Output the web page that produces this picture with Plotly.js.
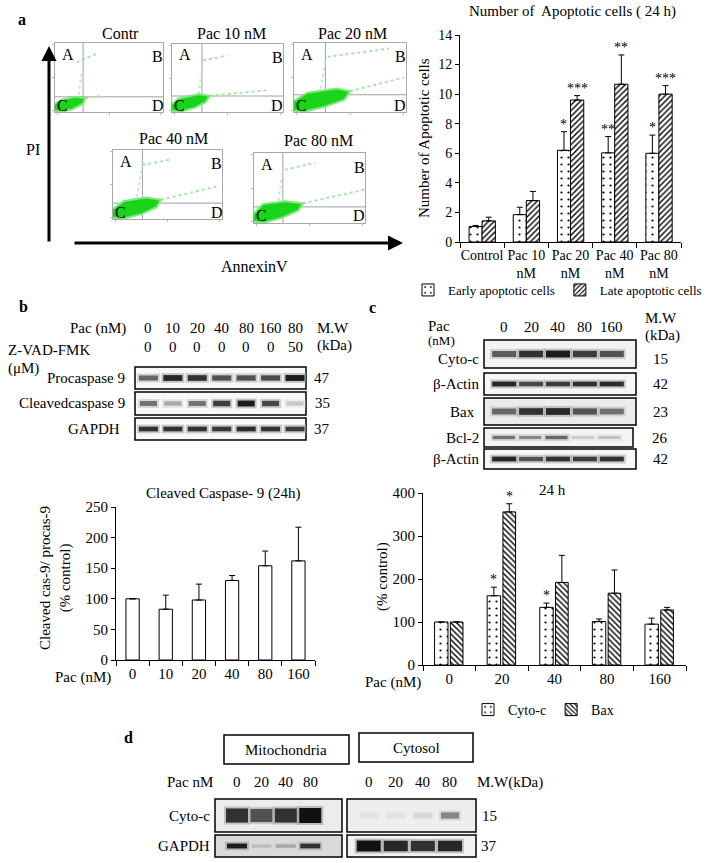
<!DOCTYPE html>
<html><head><meta charset="utf-8">
<script src="https://cdn.plot.ly/plotly-3.0.1.min.js"></script>
<style>html,body{margin:0;padding:0;background:#fff;overflow:hidden}#chart{width:708px;height:863px}</style>
</head><body><div id="chart"></div>
<script>
// ---------------- DATA ----------------
// Panel a: flow cytometry (unit coordinates inside each dot plot)
const flowTitles=['Contr','Pac 10 nM','Pac 20 nM','Pac 40 nM','Pac 80 nM'];
const flowGateX=[0.26,0.27,0.28,0.27,0.26];
const flowGateY=[0.22,0.235,0.25,0.23,0.23];
const flowCoreX=[
 [0,0.04,0.16,0.26,0.28,0.2,0.06,0],
 [0,0.06,0.2,0.3,0.34,0.24,0.06,0],
 [0,0.08,0.28,0.45,0.5,0.38,0.12,0],
 [0,0.08,0.26,0.4,0.44,0.3,0.1,0],
 [0,0.08,0.26,0.4,0.44,0.28,0.08,0]];
const flowCoreY=[
 [0.02,0,0.04,0.12,0.2,0.22,0.18,0.12],
 [0.02,0,0.06,0.14,0.24,0.26,0.2,0.12],
 [0.02,0,0.08,0.18,0.3,0.34,0.28,0.16],
 [0.02,0,0.07,0.17,0.28,0.31,0.26,0.15],
 [0.02,0,0.08,0.18,0.28,0.31,0.27,0.14]];
const flowUpperX=[[0.2,0.38],[0.28,0.5],[0.3,0.85],[0.27,0.52],[0.28,0.55]];
const flowUpperY=[[0.72,0.84],[0.76,0.83],[0.8,0.92],[0.78,0.86],[0.76,0.86]];
const flowLowerX=[[0.28,0.42],[0.34,0.85],[0.5,0.98],[0.44,0.95],[0.44,1.0]];
const flowLowerY=[[0.2,0.23],[0.24,0.32],[0.3,0.5],[0.28,0.47],[0.28,0.48]];
const flowVertX=[[0.22,0.25],[0.24,0.26],[0.24,0.28],[0.22,0.27],[0.22,0.26]];
const flowVertY=[[0.25,0.6],[0.26,0.55],[0.34,0.75],[0.32,0.78],[0.32,0.76]];
const quadLabels=['A','B','C','D'];

// Panel a: number of apoptotic cells
const apoCategories=['Control','Pac 10<br>nM','Pac 20<br>nM','Pac 40<br>nM','Pac 80<br>nM'];
const earlyApo=[1.05,1.85,6.2,6.03,6.0];
const earlyApoErr=[0.07,0.5,1.26,1.1,1.23];
const lateApo=[1.43,2.8,9.6,10.67,10.0];
const lateApoErr=[0.25,0.62,0.3,1.98,0.58];
const earlySig=['','','*','**','*'];
const lateSig=['','','***','**','***'];

// Panel b: western blot
const blotBLanes=['0','10','20','40','80','160','80'];
const blotBZvad=['0','0','0','0','0','0','50'];
const procasp9=[0.6,0.9,0.85,0.7,0.7,0.72,0.95];
const cleavedCasp9=[0.55,0.3,0.55,0.8,0.95,0.75,0.15];
const gapdhB=[0.85,0.85,0.85,0.82,0.88,0.85,0.8];
// Panel b: cleaved caspase-9 ratio
const casDoses=['0','10','20','40','80','160'];
const casRatio=[100,83,98,130,154,162];
const casErr=[0,23,26,8,24,55];

// Panel c: western blot
const blotCLanes=['0','20','40','80','160'];
const cytoCBand=[0.65,0.85,0.95,0.8,0.7];
const actinC1=[0.9,0.75,0.8,0.85,0.88];
const baxBand=[0.6,0.85,0.9,0.7,0.55];
const bcl2Band=[0.55,0.45,0.6,0.15,0.2];
const actinC2=[0.9,0.7,0.85,0.8,0.85];
// Panel c: quantification
const cytoDoses=['0','20','40','80','160'];
const cytoC=[100,161,134,101,95];
const cytoCErr=[0,20,10,6,14];
const bax=[100,356,192,167,128];
const baxErr=[0,19,63,54,6];
const cytoSig=['','*','*','',''];
const baxSig=['','*','','',''];

// Panel d: western blot
const blotDLanes=['0','20','40','80'];
const mitoCytoC=[0.85,0.7,0.85,1.0];
const mitoGapdh=[0.95,0.2,0.3,0.85];
const cytosolCytoC=[0.03,0.03,0.08,0.45];
const cytosolGapdh=[1.0,0.9,0.85,0.9];

// ---------------- LAYOUT HELPERS ----------------
const SERIF='Liberation Serif, Times New Roman, Times, serif';
const W=708,H=863;
const px=v=>v/W, py=v=>1-v/H;
const traces=[], annotations=[], shapes=[];
const layout={width:W,height:H,margin:{l:0,r:0,t:0,b:0,autoexpand:false},paper_bgcolor:'#fff',plot_bgcolor:'rgba(0,0,0,0)',
  font:{family:SERIF,size:15,color:'#000'},annotations:annotations,shapes:shapes,barmode:'group',showlegend:true,hovermode:false};
let axN=0;
function axes(x0,x1,y0,y1,xo,yo){
  axN++;
  const s=axN===1?'':String(axN);
  layout['xaxis'+s]=Object.assign({domain:[px(x0),px(x1)],anchor:'y'+s,showgrid:false,zeroline:false,fixedrange:true,automargin:false},xo);
  layout['yaxis'+s]=Object.assign({domain:[py(y1),py(y0)],anchor:'x'+s,showgrid:false,zeroline:false,fixedrange:true,automargin:false},yo);
  return {x:'x'+s,y:'y'+s,xd:'x'+s+' domain',yd:'y'+s+' domain',x0:x0,x1:x1};
}
function txt(x,y,t,o){
  annotations.push(Object.assign({xref:'paper',yref:'paper',x:px(x),y:py(y),text:t,showarrow:false,
    font:{family:SERIF,size:15,color:'#000'},xanchor:'center',yanchor:'middle'},o||{}));
}
const hidden=r=>({visible:false,range:r});

// ---------------- PANEL a : dot plots ----------------
txt(22,20,'<b>a</b>',{font:{family:SERIF,size:16,color:'#000'}});
const flowBoxes=[[55,163,43,112],[172,283,44,112],[294,406,43,112],[113,222,150,219],[254,365,153,223]];
const flowTitlePos=[[120,33],[232,33],[352,33],[173,138],[318,140]];
const quadPos=[[0.12,0.84],[0.95,0.8],[0.07,0.1],[0.95,0.1]];
const flowAxis=()=>({range:[0,1],showline:true,mirror:true,linecolor:'#a8a8a8',linewidth:1,ticks:'outside',ticklen:2,tickcolor:'#bbb',tickvals:[0.02,0.5,0.98],showticklabels:false});
flowBoxes.forEach((b,i)=>{
  const a=axes(b[0],b[1],b[2],b[3],flowAxis(),flowAxis());
  const base={type:'scatter',xaxis:a.x,yaxis:a.y,hoverinfo:'skip',showlegend:false};
  traces.push(Object.assign({mode:'lines',x:[flowGateX[i],flowGateX[i]],y:[0,1],line:{color:'#a0a0a0',width:1}},base));
  traces.push(Object.assign({mode:'lines',x:[0,1],y:[flowGateY[i],flowGateY[i]],line:{color:'#a0a0a0',width:1}},base));
  traces.push(Object.assign({mode:'lines',x:flowVertX[i],y:flowVertY[i],line:{color:'#bfeebf',width:2,dash:'dot'}},base));
  traces.push(Object.assign({mode:'lines',x:flowUpperX[i],y:flowUpperY[i],line:{color:'#a6e6a6',width:2,dash:'dot'}},base));
  traces.push(Object.assign({mode:'lines',x:flowLowerX[i],y:flowLowerY[i],line:{color:'#a6e6a6',width:2,dash:'dot'}},base));
  traces.push(Object.assign({mode:'lines',x:flowCoreX[i],y:flowCoreY[i],fill:'toself',fillcolor:'#1ad41a',line:{color:'#7ae87a',width:2}},base));
  txt(flowTitlePos[i][0],flowTitlePos[i][1],flowTitles[i],{font:{family:SERIF,size:16,color:'#000'}});
  quadLabels.forEach((q,k)=>annotations.push({xref:a.xd,yref:a.yd,x:quadPos[k][0],y:quadPos[k][1],text:q,showarrow:false,
    font:{family:SERIF,size:16,color:'#000'},xanchor:'center',yanchor:'middle'}));
});
// PI / AnnexinV arrows
annotations.push({xref:'paper',yref:'paper',x:px(49),y:py(46),ax:0,ay:197,showarrow:true,arrowhead:2,arrowsize:1,arrowwidth:3,arrowcolor:'#000',text:''});
annotations.push({xref:'paper',yref:'paper',x:px(403),y:py(243),ax:-330,ay:0,showarrow:true,arrowhead:2,arrowsize:1,arrowwidth:3,arrowcolor:'#000',text:''});
txt(33,150,'PI',{font:{family:SERIF,size:16,color:'#000'}});
txt(254,266,'AnnexinV',{font:{family:SERIF,size:16,color:'#000'}});

// ---------------- bar chart helpers ----------------
function barX(fs,o){return Object.assign({type:'category',showline:true,linecolor:'#000',linewidth:1,ticks:'outside',tickson:'boundaries',ticklen:5,tickcolor:'#000',tickangle:0,tickfont:{family:SERIF,size:fs,color:'#000'}},o);}
function barY(fs,o){return Object.assign({showline:true,linecolor:'#000',linewidth:1,ticks:'outside',ticklen:4,tickcolor:'#000',tickfont:{family:SERIF,size:fs,color:'#000'}},o);}
function errUp(arr){return {type:'data',symmetric:false,array:arr,arrayminus:arr.map(()=>0),color:'#000',thickness:1,width:3};}
function stars(a,vals,errs,sig,off,wid,catPx){
  sig.forEach((s,i)=>{ if(!s) return;
    annotations.push({xref:a.x,yref:a.y,x:i,y:vals[i]+errs[i],text:s,showarrow:false,xanchor:'center',yanchor:'bottom',
      xshift:(off+wid/2)*catPx,yshift:-2,font:{family:SERIF,size:14,color:'#000'}});
  });
}

// ---------------- PANEL a : bar chart ----------------
{
  const a=axes(460,681,35,242,barX(14,{range:[-0.5,4.5]}),barY(14,{range:[0,14],dtick:2}));
  const catPx=(681-460)/5;
  traces.push({type:'bar',name:'Early apoptotic cells',x:apoCategories,y:earlyApo,xaxis:a.x,yaxis:a.y,width:0.295,offset:-0.295,
    marker:{color:'#fff',line:{color:'#000',width:1},pattern:{shape:'.',fgcolor:'#000',bgcolor:'#fff',size:7,solidity:0.08}},
    error_y:errUp(earlyApoErr),legend:'legend'});
  traces.push({type:'bar',name:'Late apoptotic cells',x:apoCategories,y:lateApo,xaxis:a.x,yaxis:a.y,width:0.3,offset:0,
    marker:{color:'#fff',line:{color:'#000',width:1},pattern:{shape:'/',fgcolor:'#000',bgcolor:'#fff',size:4,solidity:0.35}},
    error_y:errUp(lateApoErr),legend:'legend'});
  stars(a,earlyApo,earlyApoErr,earlySig,-0.295,0.295,catPx);
  stars(a,lateApo,lateApoErr,lateSig,0,0.3,catPx);
  txt(572,11,'Number of  Apoptotic cells ( 24 h)');
  txt(424,138,'Number of Apoptotic cells',{textangle:-90});
  layout.legend={orientation:'h',x:px(408),y:py(275),xanchor:'left',yanchor:'top',font:{family:SERIF,size:13,color:'#000'},
    bgcolor:'rgba(0,0,0,0)',itemwidth:30,tracegroupgap:0,traceorder:'normal',itemclick:false,itemdoubleclick:false};
}

// ---------------- blot helper ----------------
function gray(v){v=Math.max(0,Math.min(255,Math.round(v)));return 'rgb('+v+','+v+','+v+')';}
function blot(box,range,vals,opt){
  const a=axes(box[0],box[1],box[2],box[3],hidden(range),hidden([-1,1]));
  shapes.push({type:'rect',xref:a.xd,yref:a.yd,x0:0,x1:1,y0:0,y1:1,fillcolor:opt.bg,line:{color:'#000',width:1.5},layer:'below'});
  const lanes=vals.map((v,i)=>i), zeros=vals.map(()=>0);
  const halo=vals.map(v=>gray(236-90*v)), core=vals.map(v=>gray(232-215*v));
  // line-ew symbol length is 1.4 x size
  traces.push({type:'scatter',mode:'markers',x:lanes,y:zeros,xaxis:a.x,yaxis:a.y,showlegend:false,hoverinfo:'skip',
    marker:{symbol:'line-ew-open',size:(opt.bw+4)/1.4,color:halo,opacity:0.55,line:{color:halo,width:vals.map(v=>opt.th*(0.6+0.4*v)+4)}}});
  traces.push({type:'scatter',mode:'markers',x:lanes,y:zeros,xaxis:a.x,yaxis:a.y,showlegend:false,hoverinfo:'skip',
    marker:{symbol:'line-ew-open',size:opt.bw/1.4,color:core,line:{color:core,width:vals.map(v=>opt.th*(0.6+0.4*v))}}});
  if(opt.label) annotations.push({xref:'paper',yref:a.yd,x:px(box[0]-opt.gap),y:0.5,yshift:opt.ly||0,text:opt.label,showarrow:false,xanchor:'right',yanchor:'middle',font:{family:SERIF,size:15,color:'#000'}});
  if(opt.mw) annotations.push({xref:'paper',yref:a.yd,x:px(opt.mwx),y:0.5,yshift:opt.ly||0,text:opt.mw,showarrow:false,xanchor:'center',yanchor:'middle',font:{family:SERIF,size:15,color:'#000'}});
  return a;
}
function laneLabels(a,labels,y,fs){
  labels.forEach((l,i)=>annotations.push({xref:a.x,yref:'paper',x:i,y:py(y),text:l,showarrow:false,xanchor:'center',yanchor:'middle',font:{family:SERIF,size:fs||15,color:'#000'}}));
}

// ---------------- PANEL b ----------------
txt(23,307,'<b>b</b>',{font:{family:SERIF,size:16,color:'#000'}});
{
  const r=[-0.55,6.45];
  const p=blot([135,306,367,389],r,procasp9,{bg:'#f8f8f8',bw:19,th:6,label:'Procaspase 9',gap:8,mw:'47',mwx:322});
  blot([135,306,392,415],r,cleavedCasp9,{bg:'#f8f8f8',bw:17,th:6,label:'Cleavedcaspase 9',gap:8,mw:'35',mwx:322});
  blot([135,306,418,440],r,gapdhB,{bg:'#f8f8f8',bw:19,th:5,label:'GAPDH',gap:13,mw:'37',mwx:322});
  laneLabels(p,blotBLanes,328);
  laneLabels(p,blotBZvad,347);
  txt(128,328,'Pac (nM)',{xanchor:'right'});
  txt(6,350,'Z-VAD-FMK',{xanchor:'left'});
  txt(6,369,'(\u03bcM)',{xanchor:'left'});
  txt(315,328,'M.W',{xanchor:'left'});
  txt(315,346,'(kDa)',{xanchor:'left'});
}
{
  const a=axes(116,315,507,660,barX(15,{range:[-0.5,5.5]}),barY(15,{range:[0,250],dtick:50}));
  traces.push({type:'bar',name:'Cleaved cas-9/ procas-9',x:casDoses,y:casRatio,xaxis:a.x,yaxis:a.y,width:0.4,offset:-0.2,showlegend:false,
    marker:{color:'#fff',line:{color:'#000',width:1}},error_y:errUp(casErr)});
  txt(223,493,'Cleaved Caspase- 9 (24h)');
  txt(55,578,'Cleaved cas-9/ procas-9<br>(% control)',{textangle:-90});
  txt(83,677,'Pac (nM)');
}

// ---------------- PANEL c ----------------
txt(372,308,'<b>c</b>',{font:{family:SERIF,size:16,color:'#000'}});
{
  const r=[-0.75,4.9];
  const p=blot([484,636,340,368],r,cytoCBand,{bg:'#f3f3f3',bw:24,th:7,label:'Cyto-c',gap:3,mw:'15',mwx:660,ly:-5});
  blot([484,636,373,395],r,actinC1,{bg:'#f6f6f6',bw:24,th:5,label:'\u03b2-Actin',gap:3,mw:'42',mwx:660});
  blot([484,636,398,425],r,baxBand,{bg:'#ebebeb',bw:24,th:7,label:'Bax',gap:7,mw:'23',mwx:660});
  blot([484,633,428,447],r,bcl2Band,{bg:'#f4f4f4',bw:22,th:4,label:'Bcl-2',gap:3,mw:'26',mwx:660});
  blot([484,636,449,469],r,actinC2,{bg:'#f6f6f6',bw:24,th:5,label:'\u03b2-Actin',gap:3,mw:'42',mwx:660});
  laneLabels(p,blotCLanes,327);
  txt(426,326,'Pac',{xanchor:'left'});
  txt(426,340,'(nM)',{xanchor:'left',font:{family:SERIF,size:13,color:'#000'}});
  txt(643,318,'M.W',{xanchor:'left'});
  txt(643,335,'(kDa)',{xanchor:'left'});
}
{
  const a=axes(423,686,493,665,barX(15,{range:[-0.5,4.5]}),barY(15,{range:[0,400],dtick:100}));
  const catPx=(686-423)/5;
  traces.push({type:'bar',name:'Cyto-c',x:cytoDoses,y:cytoC,xaxis:a.x,yaxis:a.y,width:0.255,offset:-0.28,
    marker:{color:'#fff',line:{color:'#000',width:1},pattern:{shape:'.',fgcolor:'#000',bgcolor:'#fff',size:7,solidity:0.08}},
    error_y:errUp(cytoCErr),legend:'legend2'});
  traces.push({type:'bar',name:'Bax',x:cytoDoses,y:bax,xaxis:a.x,yaxis:a.y,width:0.24,offset:0.02,
    marker:{color:'#fff',line:{color:'#000',width:1},pattern:{shape:'\\',fgcolor:'#000',bgcolor:'#fff',size:4,solidity:0.35}},
    error_y:errUp(baxErr),legend:'legend2'});
  stars(a,cytoC,cytoCErr,cytoSig,-0.28,0.255,catPx);
  stars(a,bax,baxErr,baxSig,0.02,0.24,catPx);
  txt(552,490,'24 h');
  txt(382,577,'(% control)',{textangle:-90});
  txt(393,682,'Pac (nM)');
  layout.legend2={orientation:'h',x:px(468),y:py(694),xanchor:'left',yanchor:'top',font:{family:SERIF,size:14,color:'#000'},
    bgcolor:'rgba(0,0,0,0)',itemwidth:30,tracegroupgap:0,traceorder:'normal',itemclick:false,itemdoubleclick:false};
}

// ---------------- PANEL d ----------------
txt(128,737,'<b>d</b>',{font:{family:SERIF,size:16,color:'#000'}});
shapes.push({type:'rect',xref:'paper',yref:'paper',x0:px(224),x1:px(349),y0:py(764),y1:py(735),line:{color:'#000',width:1.5}});
shapes.push({type:'rect',xref:'paper',yref:'paper',x0:px(359),x1:px(473),y0:py(762),y1:py(733),line:{color:'#000',width:1.5}});
txt(286,750,'Mitochondria');
txt(416,748,'Cytosol');
{
  const rm=[-0.9,4.3], rc=[-0.8,3.96];
  const m1=blot([215,342,799,832],rm,mitoCytoC,{bg:'#ececec',bw:22,th:15,label:'Cyto-c',gap:3});
  blot([215,342,835,857],rm,mitoGapdh,{bg:'#dadada',bw:20,th:5,label:'GAPDH',gap:3});
  const c1=blot([347,476,799,832],rc,cytosolCytoC,{bg:'#eeeeee',bw:18,th:8,mw:'15',mwx:489});
  blot([347,476,835,857],rc,cytosolGapdh,{bg:'#f2f2f2',bw:24,th:11,mw:'37',mwx:489});
  laneLabels(m1,blotDLanes,782);
  laneLabels(c1,blotDLanes,782);
  txt(165,782,'Pac nM',{xanchor:'left'});
  txt(475,782,'M.W(kDa)',{xanchor:'left'});
}

Plotly.newPlot('chart',traces,layout,{staticPlot:true,displayModeBar:false});
</script></body></html>
